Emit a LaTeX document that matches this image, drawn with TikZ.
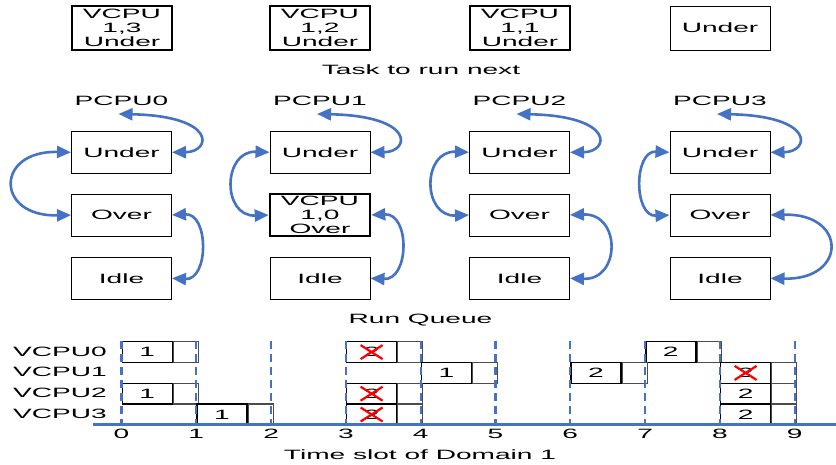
\documentclass[tikz,border=0pt]{standalone}
\usepackage{fontspec}
\setmainfont[FakeStretch=2.08]{Liberation Sans}
\usetikzlibrary{arrows.meta}
\definecolor{ablue}{HTML}{4472C4}
\newcommand\slotbox[4]{%
  \node[bigpart, anchor=north west] (#3) at ({121.5+74.8*#2}, {341+20.8*#1}) {#4};
  \node[smallpart, anchor=north west] (#3s) at (#3.north east) {};
}
\newcommand\xmark[1]{%
  \draw[xline] ([shift={(-11,-7)}]#1.center) -- ([shift={(11,7)}]#1.center);
  \draw[xline] ([shift={(-11,7)}]#1.center) -- ([shift={(11,-7)}]#1.center);
}
\begin{document}
\begin{tikzpicture}[x=1pt,y=-1pt,
  font=\fontsize{13.5}{14}\selectfont,
  box/.style={draw, line width=1pt, minimum width=100pt, minimum height=42pt, inner sep=0pt, align=center},
  thickbox/.style={box, line width=2.6pt},
  conn/.style={ablue, line width=2.6pt, {Triangle[length=14pt,width=12pt]}-{Triangle[length=14pt,width=12pt]}},
  bigpart/.style={draw, line width=1.4pt, minimum width=50pt, minimum height=20.8pt, inner sep=0pt},
  smallpart/.style={draw, black!70, line width=1.1pt, minimum width=24.8pt, minimum height=20.8pt, inner sep=0pt},
  xline/.style={red, line width=2.2pt},
  grid/.style={ablue, line width=2.2pt, dash pattern=on 8pt off 5pt},
  lbl/.style={inner sep=0pt}]
\useasboundingbox (0,0) rectangle (836,464);

% top tasks
\node[thickbox, minimum height=44pt] (t0) at (122,28) {VCPU\\1,3\\Under};
\node[thickbox, minimum height=44pt] (t1) at (320,28) {VCPU\\1,2\\Under};
\node[thickbox, minimum height=44pt] (t2) at (520,28) {VCPU\\1,1\\Under};
\node[box, minimum height=44pt] (t3) at (720,28) {Under};
\node[lbl] (task) at (421,70) {Task to run next};

% run queues
\foreach \i/\cx/\dl/\dr in {0/121.5/76/37, 1/320/47/39, 2/519.5/47/51, 3/720/36/77} {
  \node[lbl] (p\i) at (\cx,101) {PCPU\i};
  \node[box] (u\i) at (\cx,152.3) {Under};
  \ifnum\i=1
    \node[thickbox] (o\i) at (\cx,215) {VCPU\\1,0\\Over};
  \else
    \node[box] (o\i) at (\cx,215) {Over};
  \fi
  \node[box] (d\i) at (\cx,278.3) {Idle};
  \coordinate (top\i) at ({\cx-3},114);
  \draw[conn] (top\i) .. controls ({\cx+96},116) and ({\cx+90},152) .. (u\i.east);
  \draw[conn] (u\i.west) .. controls +(-\dl,-2) and +(-\dl,2) .. (o\i.west);
  \draw[conn] (o\i.east) .. controls +(\dr,-2) and +(\dr,2) .. (d\i.east);
}
\node[lbl] (rq) at (420.5,320) {Run Queue};

% timeline
\foreach \r in {0,1,2,3} {
  \node[lbl, anchor=west] (v\r) at (13,{351.4+20.8*\r}) {VCPU\r};
}
\slotbox{0}{0}{a00}{1}
\slotbox{0}{3}{a03}{2}
\slotbox{0}{7}{a07}{2}
\slotbox{1}{4}{a14}{1}
\slotbox{1}{6}{a16}{2}
\slotbox{1}{8}{a18}{2}
\slotbox{2}{0}{a20}{1}
\slotbox{2}{3}{a23}{2}
\slotbox{2}{8}{a28}{2}
\slotbox{3}{1}{a31}{1}
\slotbox{3}{3}{a33}{2}
\slotbox{3}{8}{a38}{2}
\xmark{a03}
\xmark{a23}
\xmark{a33}
\xmark{a18}

\draw[ablue, line width=3pt] (93,424.5) -- (836,424.5);
\foreach \k in {0,...,9} {
  \draw[grid] ({121.5+74.8*\k},341) -- ({121.5+74.8*\k},424);
  \node[lbl] (n\k) at ({121.5+74.8*\k},434) {\k};
}
\node[lbl] (tl) at (420,455) {Time slot of Domain 1};
\end{tikzpicture}
\end{document}
